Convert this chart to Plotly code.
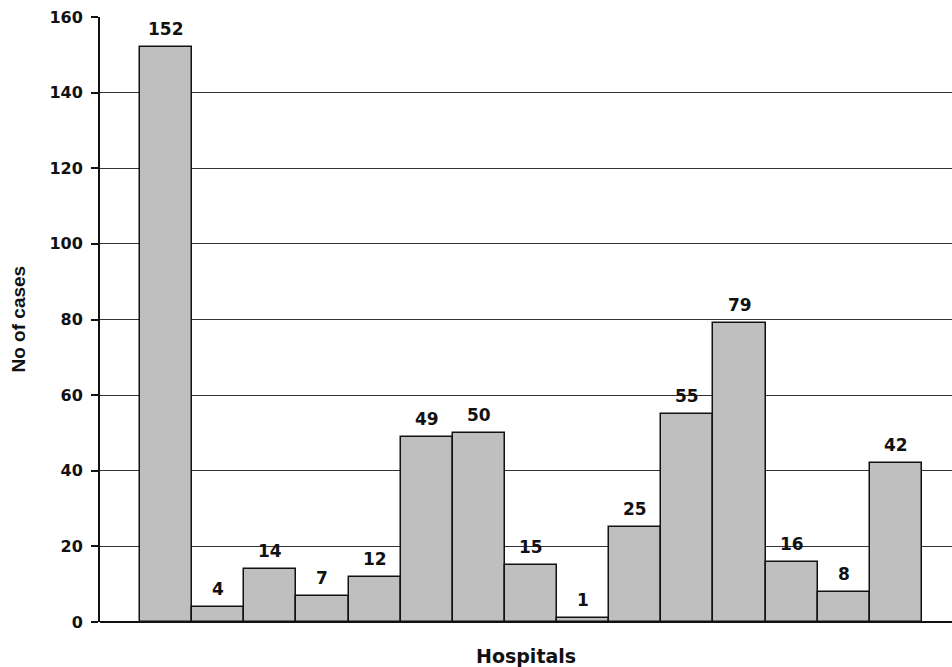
import plotly.graph_objects as go

# Cases per hospital
hospitals = [f"H{i}" for i in range(1, 16)]
cases = [152, 4, 14, 7, 12, 49, 50, 15, 1, 25, 55, 79, 16, 8, 42]
y_ticks = [0, 20, 40, 60, 80, 100, 120, 140, 160]

x_pos = list(range(len(hospitals)))

fig = go.Figure()
fig.add_trace(go.Bar(
    x=x_pos,
    y=cases,
    width=1.0,
    marker=dict(color="#bfbfbf", line=dict(color="#111111", width=1.5)),
    hovertext=hospitals,
    showlegend=False,
))

# value labels above each bar
for xp, v in zip(x_pos, cases):
    fig.add_annotation(
        x=xp, y=v, text=f"<b>{v}</b>", showarrow=False,
        yanchor="bottom", yshift=6,
        font=dict(family="DejaVu Sans", size=17, color="#111111"),
    )

# axis titles
fig.add_annotation(
    xref="paper", yref="paper", x=0.5, y=0, yshift=-34,
    xanchor="center", yanchor="middle", showarrow=False,
    text="<b>Hospitals</b>",
    font=dict(family="DejaVu Sans", size=19, color="#111111"),
)
fig.add_annotation(
    xref="paper", yref="paper", x=0, y=0.5, xshift=-82,
    xanchor="center", yanchor="middle", showarrow=False, textangle=-90,
    text="<b>No of cases</b>",
    font=dict(family="Liberation Sans", size=19, color="#111111"),
)

fig.update_layout(
    width=952, height=667,
    margin=dict(l=100, r=0, t=17, b=45),
    paper_bgcolor="white", plot_bgcolor="white",
    bargap=0,
    font=dict(family="DejaVu Sans", color="#111111"),
)

fig.update_xaxes(
    range=[-1.267, 15.076],
    showticklabels=False, ticks="", showgrid=False,
    zeroline=False, showline=False,
)

fig.update_yaxes(
    range=[0, 160],
    tickvals=y_ticks,
    ticktext=[f"<b>{t}</b>" for t in y_ticks],
    tickfont=dict(family="DejaVu Sans", size=16, color="#111111"),
    ticks="outside", ticklen=7, tickcolor="#111111", tickwidth=1.5,
    ticklabelstandoff=5,
    showgrid=True, gridcolor="#333333", gridwidth=1,
    showline=True, linecolor="#111111", linewidth=2,
    zeroline=True, zerolinecolor="#111111", zerolinewidth=2,
)

fig.write_html("out.html")
